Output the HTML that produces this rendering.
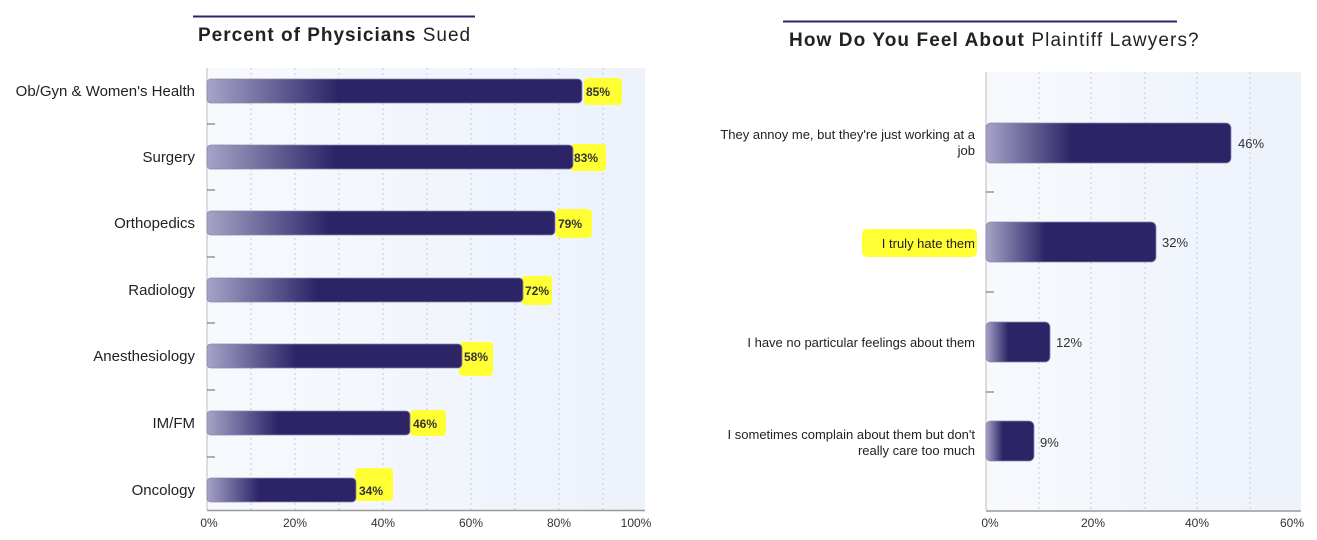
<!DOCTYPE html>
<html><head><meta charset="utf-8"><style>
html,body{margin:0;padding:0;background:#fff;}
svg{display:block;font-family:"Liberation Sans",sans-serif;}
</style></head><body>
<svg width="1317" height="540" viewBox="0 0 1317 540">
<defs>
<linearGradient id="bar" x1="0" x2="1" y1="0" y2="0">
<stop offset="0" stop-color="#a7a3c8"/><stop offset="0.35" stop-color="#2d2467"/><stop offset="1" stop-color="#2d2467"/>
</linearGradient>
<linearGradient id="bg" x1="0" x2="1" y1="0" y2="0">
<stop offset="0" stop-color="#f7f9fd"/><stop offset="1" stop-color="#edf2fb"/>
</linearGradient>
</defs>

<!-- LEFT CHART -->
<line x1="193" y1="16.5" x2="475" y2="16.5" stroke="#2d2467" stroke-width="2"/>
<text x="198" y="41" font-size="19" letter-spacing="1" fill="#222"><tspan font-weight="bold">Percent of Physicians</tspan> Sued</text>
<rect x="207" y="68" width="438" height="442" fill="url(#bg)"/>
<g stroke="#c5cbd9" stroke-width="1" stroke-dasharray="2,3">
<line x1="251" y1="68" x2="251" y2="510"/><line x1="295" y1="68" x2="295" y2="510"/>
<line x1="339" y1="68" x2="339" y2="510"/><line x1="383" y1="68" x2="383" y2="510"/>
<line x1="427" y1="68" x2="427" y2="510"/><line x1="471" y1="68" x2="471" y2="510"/>
<line x1="515" y1="68" x2="515" y2="510"/><line x1="559" y1="68" x2="559" y2="510"/>
<line x1="603" y1="68" x2="603" y2="510"/>
</g>
<line x1="207" y1="68" x2="207" y2="510" stroke="#bbb"/>
<line x1="207" y1="510.5" x2="645" y2="510.5" stroke="#999" stroke-width="1.5"/>
<g stroke="#666"><line x1="207" y1="124" x2="215" y2="124"/><line x1="207" y1="190" x2="215" y2="190"/><line x1="207" y1="257" x2="215" y2="257"/><line x1="207" y1="323" x2="215" y2="323"/><line x1="207" y1="390" x2="215" y2="390"/><line x1="207" y1="457" x2="215" y2="457"/></g>
<g fill="#ffff33">
<rect x="584" y="78" width="38" height="27" rx="4"/>
<rect x="570" y="144" width="36" height="27" rx="4"/>
<rect x="556" y="209" width="36" height="29" rx="4"/>
<rect x="521" y="276" width="31" height="29" rx="4"/>
<rect x="459" y="342" width="34" height="34" rx="4"/>
<rect x="410" y="410" width="36" height="26" rx="4"/>
<rect x="355" y="468" width="38" height="33" rx="4"/>
</g>
<g fill="url(#bar)" stroke="#8a86a8" stroke-width="0.8">
<rect x="207" y="79" width="375" height="24" rx="4"/>
<rect x="207" y="145" width="366" height="24" rx="4"/>
<rect x="207" y="211" width="348" height="24" rx="4"/>
<rect x="207" y="278" width="316" height="24" rx="4"/>
<rect x="207" y="344" width="255" height="24" rx="4"/>
<rect x="207" y="411" width="203" height="24" rx="4"/>
<rect x="207" y="478" width="149" height="24" rx="4"/>
</g>
<g font-size="12" font-weight="bold" fill="#333">
<text x="586" y="96">85%</text><text x="574" y="162">83%</text><text x="558" y="228">79%</text>
<text x="525" y="295">72%</text><text x="464" y="361">58%</text><text x="413" y="428">46%</text><text x="359" y="495">34%</text>
</g>
<g font-size="15" fill="#222" text-anchor="end">
<text x="195" y="96">Ob/Gyn &amp; Women's Health</text><text x="195" y="162">Surgery</text>
<text x="195" y="228">Orthopedics</text><text x="195" y="295">Radiology</text>
<text x="195" y="361">Anesthesiology</text><text x="195" y="428">IM/FM</text><text x="195" y="495">Oncology</text>
</g>
<g font-size="12" fill="#333" text-anchor="middle">
<text x="209" y="527">0%</text><text x="295" y="527">20%</text><text x="383" y="527">40%</text>
<text x="471" y="527">60%</text><text x="559" y="527">80%</text><text x="636" y="527">100%</text>
</g>

<!-- RIGHT CHART -->
<line x1="783" y1="21.5" x2="1177" y2="21.5" stroke="#2d2467" stroke-width="2"/>
<text x="789" y="46" font-size="19" letter-spacing="1.1" fill="#222"><tspan font-weight="bold">How Do You Feel About</tspan> Plaintiff Lawyers?</text>
<rect x="986" y="72" width="315" height="438" fill="url(#bg)"/>
<g stroke="#c5cbd9" stroke-width="1" stroke-dasharray="2,3">
<line x1="1039" y1="72" x2="1039" y2="510"/><line x1="1091" y1="72" x2="1091" y2="510"/>
<line x1="1145" y1="72" x2="1145" y2="510"/><line x1="1197" y1="72" x2="1197" y2="510"/>
<line x1="1250" y1="72" x2="1250" y2="510"/>
</g>
<line x1="986" y1="72" x2="986" y2="510" stroke="#bbb"/>
<line x1="986" y1="511" x2="1301" y2="511" stroke="#999" stroke-width="1.5"/>
<g stroke="#666"><line x1="986" y1="192" x2="994" y2="192"/><line x1="986" y1="292" x2="994" y2="292"/><line x1="986" y1="392" x2="994" y2="392"/></g>
<rect x="862" y="229" width="115" height="28" rx="5" fill="#ffff33"/>
<g fill="url(#bar)" stroke="#8a86a8" stroke-width="0.8">
<rect x="986" y="123" width="245" height="40" rx="5"/>
<rect x="986" y="222" width="170" height="40" rx="5"/>
<rect x="986" y="322" width="64" height="40" rx="5"/>
<rect x="986" y="421" width="48" height="40" rx="5"/>
</g>
<g font-size="13" fill="#333">
<text x="1238" y="148">46%</text><text x="1162" y="247">32%</text><text x="1056" y="347">12%</text><text x="1040" y="447">9%</text>
</g>
<g font-size="13" fill="#222" text-anchor="end">
<text x="975" y="139">They annoy me, but they're just working at a</text><text x="975" y="155">job</text>
<text x="975" y="248">I truly hate them</text>
<text x="975" y="347">I have no particular feelings about them</text>
<text x="975" y="439">I sometimes complain about them but don't</text><text x="975" y="455">really care too much</text>
</g>
<g font-size="12" fill="#333" text-anchor="middle">
<text x="990" y="527">0%</text><text x="1093" y="527">20%</text><text x="1197" y="527">40%</text><text x="1292" y="527">60%</text>
</g>
</svg>
</body></html>
